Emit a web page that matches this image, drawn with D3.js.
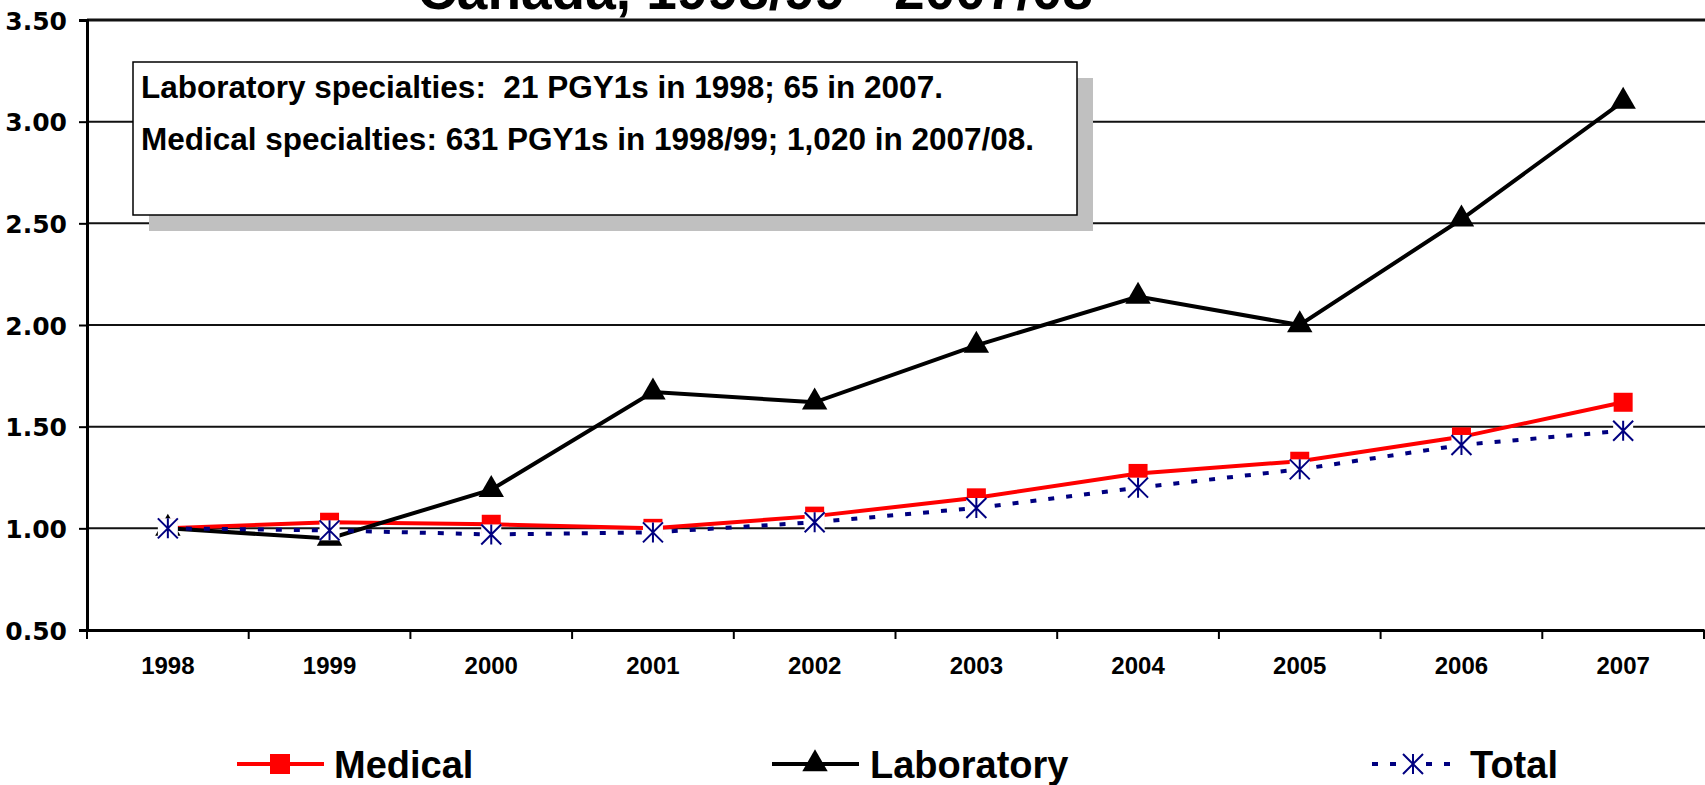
<!DOCTYPE html>
<html>
<head>
<meta charset="utf-8">
<script src="https://cdn.jsdelivr.net/npm/d3@7"></script>
<style>
  html, body { margin: 0; padding: 0; background: #fff; overflow: hidden; }
  svg { display: block; }
</style>
</head>
<body>
<svg id="chart" width="1705" height="785"></svg>
<script>
const years = ["1998","1999","2000","2001","2002","2003","2004","2005","2006","2007"];
const medical    = [1.00, 1.03, 1.02, 1.00, 1.06, 1.15, 1.27, 1.33, 1.45, 1.62];
const laboratory = [1.00, 0.95, 1.19, 1.67, 1.62, 1.90, 2.14, 2.00, 2.52, 3.10];
const total      = [1.00, 0.99, 0.97, 0.98, 1.03, 1.10, 1.20, 1.29, 1.41, 1.48];
const yTicks = [0.5, 1.0, 1.5, 2.0, 2.5, 3.0, 3.5];
const seriesNames = ["Medical", "Laboratory", "Total"];
const titleText = "Canada, 1998/99 - 2007/08";
const noteLines = [
  "Laboratory specialties:  21 PGY1s in 1998; 65 in 2007.",
  "Medical specialties: 631 PGY1s in 1998/99; 1,020 in 2007/08."
];

const svg = d3.select("#chart");
const L = 87, R = 1704, T = 20, B = 630;
const x = d3.scaleBand().domain(years).range([L, R]);
const y = d3.scaleLinear().domain([0.5, 3.5]).range([B, T]);
const cx = d => x(d) + x.bandwidth() / 2;

// Title (clipped at top as in reference)
svg.append("text").attr("x", 755).attr("y", 9).attr("text-anchor", "middle")
  .attr("font-family", "Liberation Sans, Arial, sans-serif").attr("font-weight", "bold")
  .attr("font-size", 55).text(titleText);

// Gridlines
svg.append("g").selectAll("line").data(yTicks.filter(v => v > 0.5)).join("line")
  .attr("x1", L).attr("x2", 1705).attr("y1", d => y(d)).attr("y2", d => y(d))
  .attr("stroke", "#111").attr("stroke-width", d => d === 3.5 ? 3 : 2);

// Note box with shadow
const box = {x: 133, y: 62, w: 944, h: 153};
svg.append("rect").attr("x", box.x + 16).attr("y", box.y + 16).attr("width", box.w).attr("height", box.h)
  .attr("fill", "#c0c0c0");
svg.append("rect").attr("x", box.x).attr("y", box.y).attr("width", box.w).attr("height", box.h)
  .attr("fill", "#fff").attr("stroke", "#000").attr("stroke-width", 1.5);
svg.append("g").selectAll("text").data(noteLines).join("text")
  .attr("x", 141).attr("y", (d, i) => 98 + i * 52)
  .attr("font-family", "Liberation Sans, Arial, sans-serif").attr("font-weight", "bold")
  .attr("font-size", 31.5).style("white-space", "pre").attr("xml:space", "preserve").text(d => d);

// Y axis
const yAxis = svg.append("g").attr("transform", `translate(${L},0)`)
  .call(d3.axisLeft(y).tickValues(yTicks).tickSize(8).tickFormat(d3.format(".2f")));
yAxis.select(".domain").attr("stroke", "#000").attr("stroke-width", 3);
yAxis.selectAll(".tick line").attr("stroke", "#000").attr("stroke-width", 2);
yAxis.selectAll(".tick text").attr("font-family", "DejaVu Sans, Verdana, sans-serif")
  .attr("font-weight", "bold").attr("font-size", 25).attr("fill", "#000")
  .attr("x", -20).attr("dy", "0.36em");

// X axis
const xAxis = svg.append("g").attr("transform", `translate(0,${B})`)
  .call(d3.axisBottom(x).tickSize(0).tickPadding(27));
xAxis.select(".domain").attr("stroke", "#000").attr("stroke-width", 3);
xAxis.selectAll(".tick text").attr("font-family", "Liberation Sans, Arial, sans-serif")
  .attr("font-weight", "bold").attr("font-size", 24).attr("fill", "#000");
xAxis.selectAll(".bt").data(years.concat(["end"])).join("line")
  .attr("x1", d => d === "end" ? R : x(d)).attr("x2", d => d === "end" ? R : x(d))
  .attr("y1", 0).attr("y2", 9).attr("stroke", "#000").attr("stroke-width", 2);

const line = d3.line().x((d, i) => cx(years[i])).y(d => y(d));

// Medical
svg.append("path").datum(medical).attr("d", line).attr("fill", "none")
  .attr("stroke", "#ff0000").attr("stroke-width", 4);
svg.append("g").selectAll("rect").data(medical).join("rect")
  .attr("x", (d, i) => cx(years[i]) - 9.5).attr("y", d => y(d) - 9.5)
  .attr("width", 19).attr("height", 19).attr("fill", "#ff0000");

// Laboratory
const tri = d3.symbol(d3.symbolTriangle, 280);
svg.append("path").datum(laboratory).attr("d", line).attr("fill", "none")
  .attr("stroke", "#000").attr("stroke-width", 4);
svg.append("g").selectAll("path").data(laboratory).join("path")
  .attr("d", tri).attr("transform", (d, i) => `translate(${cx(years[i])},${y(d)})`).attr("fill", "#000");

// Total
svg.append("path").datum(total).attr("d", line).attr("fill", "none")
  .attr("stroke", "#000080").attr("stroke-width", 4).attr("stroke-dasharray", "6,12");
function star(g, s) {
  g.append("rect").attr("x", -s/2).attr("y", -s/2).attr("width", s).attr("height", s).attr("fill", "#fff");
  g.append("path").attr("d", `M0,${-s/2}V${s/2}M${-s/2},${-s/2}L${s/2},${s/2}M${-s/2},${s/2}L${s/2},${-s/2}`)
    .attr("stroke", "#000080").attr("stroke-width", 2).attr("fill", "none");
}
svg.append("g").selectAll("g").data(total).join("g")
  .attr("transform", (d, i) => `translate(${cx(years[i])},${y(d)})`)
  .each(function() { star(d3.select(this), 20); });

// Legend
const ly = 764;
const leg = svg.append("g").attr("font-family", "Liberation Sans, Arial, sans-serif")
  .attr("font-weight", "bold").attr("font-size", 38);
// Medical
leg.append("line").attr("x1", 237).attr("x2", 324).attr("y1", ly).attr("y2", ly)
  .attr("stroke", "#ff0000").attr("stroke-width", 4);
leg.append("rect").attr("x", 280 - 10).attr("y", ly - 10).attr("width", 20).attr("height", 20).attr("fill", "#ff0000");
leg.append("text").attr("x", 334).attr("y", ly + 14).text(seriesNames[0]);
// Laboratory
leg.append("line").attr("x1", 772).attr("x2", 859).attr("y1", ly).attr("y2", ly)
  .attr("stroke", "#000").attr("stroke-width", 4);
leg.append("path").attr("d", tri).attr("transform", `translate(815,${ly})`).attr("fill", "#000");
leg.append("text").attr("x", 870).attr("y", ly + 14).text(seriesNames[1]);
// Total
leg.append("line").attr("x1", 1372).attr("x2", 1457).attr("y1", ly).attr("y2", ly)
  .attr("stroke", "#000080").attr("stroke-width", 4).attr("stroke-dasharray", "6,12");
const lg = leg.append("g").attr("transform", `translate(1413,${ly})`);
star(lg, 20);
leg.append("text").attr("x", 1470).attr("y", ly + 14).text(seriesNames[2]);
</script>
</body>
</html>
